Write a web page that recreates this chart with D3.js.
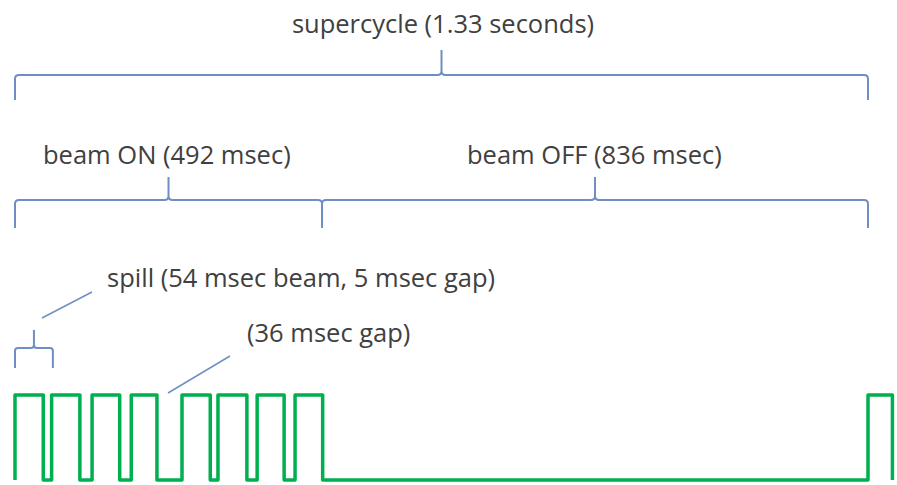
<!DOCTYPE html>
<html>
<head>
<meta charset="utf-8">
<script src="https://cdn.jsdelivr.net/npm/d3@7"></script>
<style>
  body { margin: 0; background: #fff; }
  svg text { font-family: "Open Sans", Lato, sans-serif; fill: #404040; }
</style>
</head>
<body>
<div id="chart"></div>
<script>
// Timing data (msec)
const supercycle = [0, 1328];
const beamOn = [0, 478];
const beamOff = [478, 1328];
const spill = [0, 59];

// Beam pulses: rise and fall times
const pulseStart = [0, 57, 120, 181, 260, 316, 377, 436, 1328];
const pulseEnd = [44, 101, 163, 221, 304, 361, 419, 479, 1366];

// Labels
const labelSuper = "supercycle (1.33 seconds)";
const labelOn = "beam ON (492 msec)";
const labelOff = "beam OFF (836 msec)";
const labelSpill = "spill (54 msec beam, 5 msec gap)";
const labelGap = "(36 msec gap)";

const width = 897;
const height = 485;

const svg = d3.select("#chart")
    .append("svg")
    .attr("width", width)
    .attr("height", height);

// time scale and level scale
const x = d3.scaleLinear().domain([0, 1328]).range([15, 868]);
const y = d3.scaleLinear().domain([0, 1]).range([480, 395]);

const braceColor = "#6f8fc4";

// curly brace path with a cusp in the middle
function brace(span, yH, yEnd, yTip, r) {
    const x0 = x(span[0]), x1 = x(span[1]), xm = (x0 + x1) / 2;
    const p = d3.path();
    p.moveTo(x0, yEnd);
    p.lineTo(x0, yH + r);
    p.quadraticCurveTo(x0, yH, x0 + r, yH);
    p.lineTo(xm - r, yH);
    p.quadraticCurveTo(xm, yH, xm, yH - r);
    p.lineTo(xm, yTip);
    p.moveTo(xm, yH - r);
    p.quadraticCurveTo(xm, yH, xm + r, yH);
    p.lineTo(x1 - r, yH);
    p.quadraticCurveTo(x1, yH, x1, yH + r);
    p.lineTo(x1, yEnd);
    return p.toString();
}

const braces = [
    { span: supercycle, yH: 75, yEnd: 100, yTip: 50, r: 4 },
    { span: beamOn, yH: 200, yEnd: 228, yTip: 177, r: 4 },
    { span: beamOff, yH: 200, yEnd: 228, yTip: 177, r: 4 },
    { span: spill, yH: 348, yEnd: 368, yTip: 330, r: 3 }
];

svg.selectAll("path.brace")
    .data(braces)
    .enter()
    .append("path")
    .attr("class", "brace")
    .attr("d", d => brace(d.span, d.yH, d.yEnd, d.yTip, d.r))
    .attr("fill", "none")
    .attr("stroke", braceColor)
    .attr("stroke-width", 2);

// leader lines
svg.append("line")
    .attr("x1", 42).attr("y1", 318)
    .attr("x2", 92).attr("y2", 292)
    .attr("stroke", braceColor)
    .attr("stroke-width", 1.5);

svg.append("line")
    .attr("x1", 168).attr("y1", 393)
    .attr("x2", 230).attr("y2", 356)
    .attr("stroke", braceColor)
    .attr("stroke-width", 1.5);

// labels
const labels = [
    { text: labelSuper, x: 443, y: 33, anchor: "middle" },
    { text: labelOn, x: 43, y: 164, anchor: "start" },
    { text: labelOff, x: 467, y: 164, anchor: "start" },
    { text: labelSpill, x: 107, y: 287, anchor: "start" },
    { text: labelGap, x: 247, y: 342, anchor: "start" }
];

svg.selectAll("text.label")
    .data(labels)
    .enter()
    .append("text")
    .attr("class", "label")
    .attr("x", d => d.x)
    .attr("y", d => d.y)
    .attr("text-anchor", d => d.anchor)
    .style("font-size", "25.5px")
    .text(d => d.text);

// square wave built from pulses
const wave = [];
pulseStart.forEach((s, i) => {
    wave.push([s, 0], [s, 1], [pulseEnd[i], 1], [pulseEnd[i], 0]);
});

const line = d3.line()
    .x(d => x(d[0]))
    .y(d => y(d[1]));

svg.append("path")
    .datum(wave)
    .attr("d", line)
    .attr("fill", "none")
    .attr("stroke", "#00b050")
    .attr("stroke-width", 3.5)
    .attr("stroke-linejoin", "round");
</script>
</body>
</html>
